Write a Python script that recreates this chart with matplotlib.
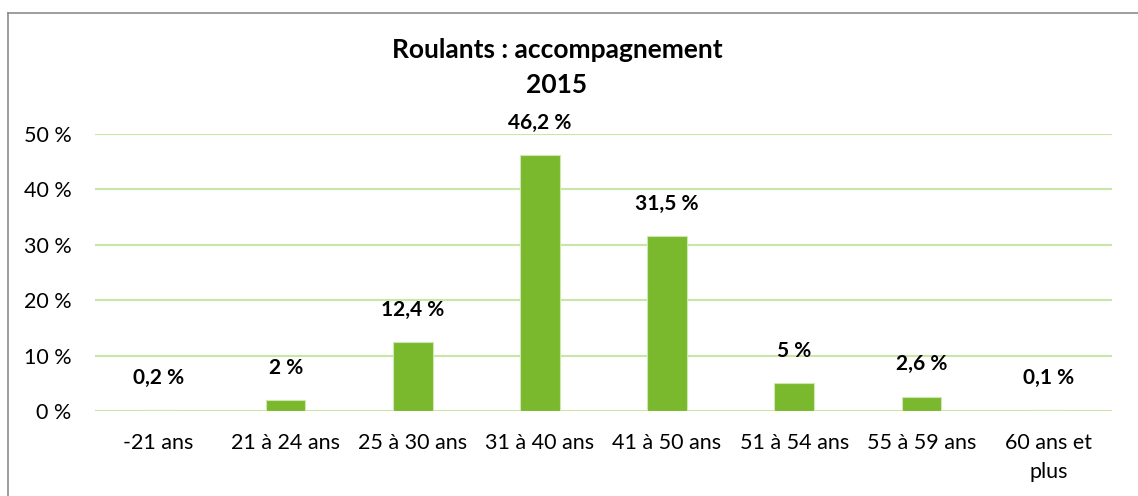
import matplotlib
matplotlib.use("Agg")
import matplotlib.pyplot as plt
from matplotlib.lines import Line2D

# données
categories = ["-21 ans", "21 à 24 ans", "25 à 30 ans", "31 à 40 ans",
              "41 à 50 ans", "51 à 54 ans", "55 à 59 ans", "60 ans et\nplus"]
valeurs = [0.2, 2, 12.4, 46.2, 31.5, 5, 2.6, 0.1]
etiquettes = ["0,2 %", "2 %", "12,4 %", "46,2 %", "31,5 %", "5 %", "2,6 %", "0,1 %"]
yticks = [0, 10, 20, 30, 40, 50]

plt.rcParams["font.family"] = ["Lato", "DejaVu Sans"]

W, H = 1138, 496
fig = plt.figure(figsize=(W / 100, H / 100), dpi=100)
ax = fig.add_axes([95 / W, 1 - 411 / H, (1112 - 95) / W, (411 - 134) / H])

x = list(range(len(categories)))
ax.bar(x, valeurs, width=0.31, color="#7ab92d", edgecolor="#cfe8b0", linewidth=0.8, zorder=3)

for xi, v, lab in zip(x, valeurs, etiquettes):
    ax.annotate(lab, (xi, v), xytext=(0, 16), textcoords="offset points",
                ha="center", va="bottom", fontsize=15, fontweight="bold", color="black")

ax.set_xlim(-0.5, len(categories) - 0.5)
ax.set_ylim(0, 50)
ax.set_yticks(yticks)
ax.set_yticklabels([f"{t} %" for t in yticks])
ax.set_xticks(x)
ax.set_xticklabels(categories, linespacing=1.55)
ax.tick_params(axis="both", length=0, labelsize=15.5, colors="black")
ax.tick_params(axis="y", pad=17)
ax.tick_params(axis="x", pad=16)
ax.grid(axis="y", color="#c8e6a6", linewidth=1.5, zorder=0)
for s in ax.spines.values():
    s.set_visible(False)

fig.text(557 / W, 1 - 50 / H, "Roulants : accompagnement", ha="center", va="center",
         fontsize=19, fontweight="bold")
fig.text(557 / W, 1 - 85 / H, "2015", ha="center", va="center",
         fontsize=19, fontweight="bold")

# cadre
fig.add_artist(Line2D([8 / W, 8 / W], [0, 1 - 13 / H], color="#8c8c8c", linewidth=1.2))
fig.add_artist(Line2D([8 / W, 1], [1 - 13 / H, 1 - 13 / H], color="#8c8c8c", linewidth=1.2))

fig.savefig("out.png", dpi=100)
